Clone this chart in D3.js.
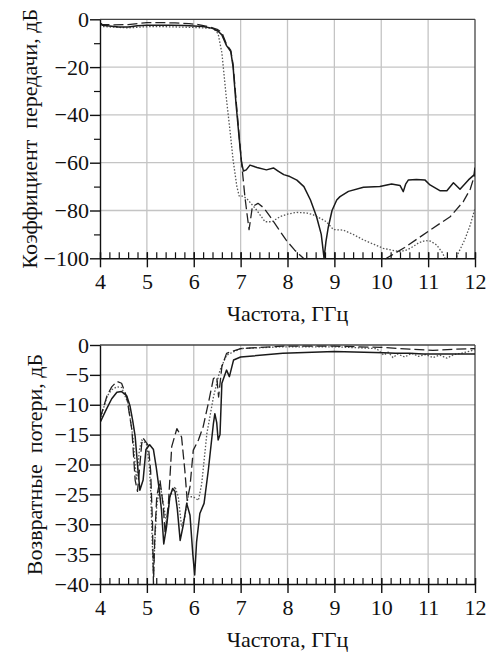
<!DOCTYPE html>
<html>
<head>
<meta charset="utf-8">
<script src="https://cdn.jsdelivr.net/npm/d3@7"></script>
<style>
  body { margin: 0; background: #fff; }
  text { font-family: "Liberation Serif", "Times New Roman", serif; fill: #111; }
</style>
</head>
<body>
<div id="chart"></div>
<script>
// frequency ticks, GHz
var freqTicks = [4, 5, 6, 7, 8, 9, 10, 11, 12];

// --- transmission coefficient (top) ---
var s21SolidF = [4.0, 4.05, 4.2, 4.4, 4.6, 4.8, 5.0, 5.2, 5.5, 5.8, 6.0, 6.2, 6.4, 6.52, 6.6, 6.7, 6.79, 6.84, 6.9, 6.97, 7.02, 7.06, 7.12, 7.2, 7.35, 7.55, 7.7, 7.8, 7.92, 8.05, 8.2, 8.35, 8.49, 8.62, 8.72, 8.78, 8.82, 8.87, 8.95, 9.05, 9.12, 9.3, 9.62, 9.97, 10.22, 10.4, 10.47, 10.52, 10.58, 10.75, 10.93, 11.04, 11.25, 11.4, 11.54, 11.68, 11.86, 11.98, 12.0];
var s21Solid  = [-1.5, -2.5, -2.8, -3.2, -3.2, -2.7, -2.5, -2.5, -2.5, -2.6, -2.8, -3.0, -3.8, -5.0, -6.5, -11, -13.5, -20, -35, -50, -60, -63.5, -63, -61, -62, -63, -62.2, -63.5, -65, -65.8, -67.3, -70, -75.6, -82.6, -90, -100, -93, -87, -80, -75.6, -74.2, -72, -70.3, -70, -68.9, -69.5, -72.1, -69, -67.2, -67, -67.2, -69.3, -71.7, -71.7, -68.4, -71.1, -67.2, -65.1, -62];

var s21DashF = [4.0, 4.05, 4.3, 4.6, 4.8, 5.0, 5.3, 5.6, 5.9, 6.1, 6.3, 6.5, 6.6, 6.7, 6.79, 6.84, 6.9, 6.97, 7.03, 7.09, 7.14, 7.18, 7.21, 7.25, 7.37, 7.5, 7.63, 7.8, 7.98, 8.15, 8.34, 8.45, 10.0, 10.11, 10.5, 11.04, 11.47, 11.75, 11.9, 11.98, 12.0];
var s21Dash  = [-1.5, -2.2, -2.3, -2.2, -1.8, -1.4, -1.4, -1.5, -1.8, -2.2, -3.0, -4.2, -5.5, -10.5, -13, -19, -33, -49, -62, -74, -82, -88, -84, -78.4, -77, -79, -82.6, -87.5, -92.6, -96.5, -100, -104, -104, -100, -95.5, -88.2, -82.6, -76.3, -71, -65.9, -64];

var s21DotF = [4.0, 4.05, 4.3, 4.6, 4.9, 5.2, 5.6, 6.0, 6.2, 6.42, 6.52, 6.6, 6.7, 6.77, 6.84, 6.92, 6.97, 7.05, 7.13, 7.22, 7.34, 7.52, 7.67, 7.84, 8.0, 8.19, 8.4, 8.55, 8.72, 8.83, 8.98, 9.19, 9.4, 9.62, 9.85, 10.04, 10.2, 10.4, 10.55, 10.68, 10.8, 10.93, 11.05, 11.18, 11.3, 11.36, 11.45, 11.52, 11.59, 11.78, 11.9, 11.98, 12.0];
var s21Dot  = [-2.5, -3.0, -3.3, -3.6, -3.2, -3.0, -3.2, -3.4, -3.6, -3.8, -6, -14, -33.8, -46, -58.9, -70, -74, -74, -75, -77, -79.8, -84.7, -84.7, -82.6, -81.5, -80.8, -81, -81.8, -83.5, -84.7, -88, -88.2, -90, -92.3, -94.2, -95.8, -96.5, -97.2, -96.5, -95.1, -93.5, -92.6, -92.8, -94.4, -97.5, -100, -104, -104, -100, -92.3, -86, -80.5, -79];

// --- return loss (bottom) ---
var s11SolidF = [4.0, 4.14, 4.25, 4.36, 4.46, 4.57, 4.64, 4.7, 4.75, 4.8, 4.85, 4.92, 4.98, 5.06, 5.14, 5.2, 5.26, 5.31, 5.36, 5.42, 5.49, 5.55, 5.6, 5.65, 5.71, 5.78, 5.85, 5.92, 5.98, 6.02, 6.06, 6.13, 6.22, 6.31, 6.42, 6.45, 6.49, 6.52, 6.56, 6.6, 6.7, 6.76, 6.85, 7.0, 7.9, 9.0, 10.05, 10.3, 10.6, 10.9, 11.1, 11.4, 12.0];
var s11Solid  = [-13, -10.7, -9, -7.9, -7.8, -8.5, -10.2, -12.8, -15.3, -20, -24.3, -22.6, -17.5, -16.7, -17.5, -20.5, -24, -27.5, -33.3, -30.4, -25.4, -24, -24.5, -27.5, -32.7, -30, -26.5, -28.5, -35, -38.5, -33, -28.2, -26.5, -21, -13.1, -11.5, -13, -15.9, -15, -6.4, -4.2, -5.3, -2.5, -2.0, -1.4, -1.1, -1.3, -1.4, -1.4, -1.5, -1.5, -1.5, -1.5];

var s11DashF = [4.0, 4.15, 4.25, 4.36, 4.46, 4.57, 4.68, 4.75, 4.8, 4.84, 4.89, 4.92, 5.03, 5.08, 5.12, 5.14, 5.17, 5.21, 5.28, 5.35, 5.39, 5.46, 5.53, 5.64, 5.74, 5.81, 5.86, 5.92, 5.99, 6.1, 6.2, 6.31, 6.42, 6.49, 6.53, 6.6, 6.7, 7.0, 7.9, 9.0, 10.0, 10.6, 11.1, 11.6, 12.0];
var s11Dash  = [-12.3, -8.5, -7, -6.1, -6.4, -8.7, -14.2, -22.6, -24.5, -21, -16.5, -15.6, -16.8, -21, -30, -40, -32, -25.4, -22.6, -27, -31.6, -26.5, -17, -14, -15.4, -21, -26, -23.7, -17.6, -15.9, -13.7, -9.8, -5.6, -5.3, -8.7, -3.6, -1.4, -0.6, -0.2, -0.2, -0.4, -0.7, -0.9, -0.7, -0.6];

var s11DotF = [4.0, 4.15, 4.25, 4.36, 4.46, 4.6, 4.71, 4.75, 4.78, 4.84, 4.89, 4.99, 5.05, 5.08, 5.11, 5.14, 5.17, 5.21, 5.28, 5.35, 5.42, 5.49, 5.6, 5.67, 5.74, 5.81, 5.88, 5.99, 6.1, 6.17, 6.28, 6.42, 6.56, 6.7, 7.0, 7.9, 9.0, 9.9, 10.05, 10.15, 10.25, 10.35, 10.5, 10.65, 10.8, 10.95, 11.1, 11.25, 11.4, 11.55, 11.7, 12.0];
var s11Dot  = [-12.6, -8.6, -7.5, -7.0, -7.1, -9.8, -15.9, -20, -22.6, -17.6, -15.9, -16.5, -20, -24.3, -32, -38.8, -33, -27, -23.2, -26.5, -29.9, -25.4, -23.7, -25.4, -30.4, -28.8, -25.4, -25.4, -26, -23.2, -14.8, -8.7, -4.2, -1.7, -0.6, -0.3, -0.3, -0.6, -1.7, -1.2, -2.1, -1.5, -2.0, -1.4, -1.9, -1.6, -2.1, -1.7, -2.2, -1.6, -1.4, -0.8];

var W = 489, H = 653;
var svg = d3.select("#chart").append("svg")
  .attr("width", W).attr("height", H)
  .style("background", "#fff");

function seq(a, b, step) {
  var out = [];
  for (var v = a; v <= b + 1e-9; v += step) out.push(Math.round(v * 100) / 100);
  return out;
}

function drawPanel(cfg) {
  var x = d3.scaleLinear().domain([4, 12]).range([100, 475]);
  var y = d3.scaleLinear().domain(cfg.yDomain).range([cfg.bottom, cfg.top]);
  var g = svg.append("g");

  var clipId = "clip" + cfg.id;
  svg.append("clipPath").attr("id", clipId)
    .append("rect")
      .attr("x", 100).attr("y", cfg.top - 1)
      .attr("width", 375).attr("height", cfg.bottom - cfg.top + 2);

  // grid
  g.selectAll(".vg").data(freqTicks.slice(1, -1)).enter().append("line")
    .attr("x1", d => x(d)).attr("x2", d => x(d))
    .attr("y1", cfg.top).attr("y2", cfg.bottom)
    .attr("stroke", "#c4c4c4").attr("stroke-width", 1.3);
  g.selectAll(".hg").data(cfg.yTicks.slice(1, -1)).enter().append("line")
    .attr("x1", 100).attr("x2", 475)
    .attr("y1", d => y(d)).attr("y2", d => y(d))
    .attr("stroke", "#c4c4c4").attr("stroke-width", 1.3);

  // frame top and right
  g.append("line").attr("x1", 100).attr("x2", 475)
    .attr("y1", cfg.top).attr("y2", cfg.top)
    .attr("stroke", "#444").attr("stroke-width", 1.3);
  g.append("line").attr("x1", 475).attr("x2", 475)
    .attr("y1", cfg.top).attr("y2", cfg.bottom)
    .attr("stroke", "#444").attr("stroke-width", 1.3);

  // curves
  var line = d3.line().x(d => x(d[0])).y(d => y(d[1]));
  var lines = g.append("g").attr("clip-path", "url(#" + clipId + ")");
  cfg.series.forEach(function(s) {
    var pts = s.f.map((f, i) => [f, s.v[i]]);
    lines.append("path")
      .datum(pts)
      .attr("d", line)
      .attr("fill", "none")
      .attr("stroke", s.color)
      .attr("stroke-width", s.width)
      .attr("stroke-dasharray", s.dash)
      .attr("stroke-linejoin", "round");
  });

  // x axis
  var xMinor = g.append("g").attr("transform", "translate(0," + cfg.bottom + ")")
    .call(d3.axisBottom(x).tickValues(seq(4, 12, 0.2)).tickSize(-6).tickFormat(""));
  xMinor.select(".domain").remove();
  xMinor.selectAll("line").attr("stroke", "#111").attr("stroke-width", 1.2);

  var xAxis = g.append("g").attr("transform", "translate(0," + cfg.bottom + ")")
    .call(d3.axisBottom(x).tickValues(freqTicks).tickSize(9).tickPadding(6).tickSizeOuter(0));
  xAxis.selectAll("line").attr("y1", -6).attr("stroke", "#111").attr("stroke-width", 1.4);
  xAxis.select(".domain").attr("stroke", "#111").attr("stroke-width", 1.4);
  xAxis.selectAll("text").style("font-size", "22px").attr("fill", "#111");

  // y axis
  if (cfg.yMinor) {
    var yMinor = g.append("g").attr("transform", "translate(100,0)")
      .call(d3.axisLeft(y).tickValues(cfg.yMinor).tickSize(6).tickFormat(""));
    yMinor.select(".domain").remove();
    yMinor.selectAll("line").attr("stroke", "#111").attr("stroke-width", 1.2);
  }
  var yAxis = g.append("g").attr("transform", "translate(100,0)")
    .call(d3.axisLeft(y).tickValues(cfg.yTicks).tickSize(10).tickPadding(1).tickSizeOuter(0));
  yAxis.selectAll("line").attr("stroke", "#111").attr("stroke-width", 1.4);
  yAxis.select(".domain").attr("stroke", "#111").attr("stroke-width", 1.4);
  yAxis.selectAll("text").style("font-size", "22px").attr("fill", "#111");

  // titles
  g.append("text")
    .attr("x", 287.5).attr("y", cfg.xTitleY)
    .attr("text-anchor", "middle")
    .style("font-size", "22px")
    .text("Частота, ГГц");
  g.append("text")
    .attr("transform", "translate(" + cfg.yTitleX + "," + ((cfg.top + cfg.bottom) / 2) + ") rotate(-90)")
    .attr("text-anchor", "middle")
    .style("font-size", "22px")
    .style("white-space", "pre")
    .text(cfg.yTitle);
}

drawPanel({
  id: "a", top: 19.3, bottom: 258.3,
  yDomain: [-100, 0],
  yTicks: [-100, -80, -60, -40, -20, 0],
  yMinor: [-90, -70, -50, -30, -10],
  xTitleY: 321, yTitleX: 37,
  yTitle: "Коэффициент  передачи, дБ",
  series: [
    {f: s21DotF, v: s21Dot, color: "#555", width: 1.3, dash: "1.5,1.8"},
    {f: s21DashF, v: s21Dash, color: "#222", width: 1.3, dash: "10,4"},
    {f: s21SolidF, v: s21Solid, color: "#1a1a1a", width: 1.5, dash: null}
  ]
});

drawPanel({
  id: "b", top: 345, bottom: 584,
  yDomain: [-40, 0],
  yTicks: [-40, -35, -30, -25, -20, -15, -10, -5, 0],
  yMinor: null,
  xTitleY: 647, yTitleX: 42,
  yTitle: "Возвратные  потери, дБ",
  series: [
    {f: s11DotF, v: s11Dot, color: "#555", width: 1.3, dash: "1.5,1.8"},
    {f: s11DashF, v: s11Dash, color: "#222", width: 1.3, dash: "10,4"},
    {f: s11SolidF, v: s11Solid, color: "#1a1a1a", width: 1.5, dash: null}
  ]
});
</script>
</body>
</html>
